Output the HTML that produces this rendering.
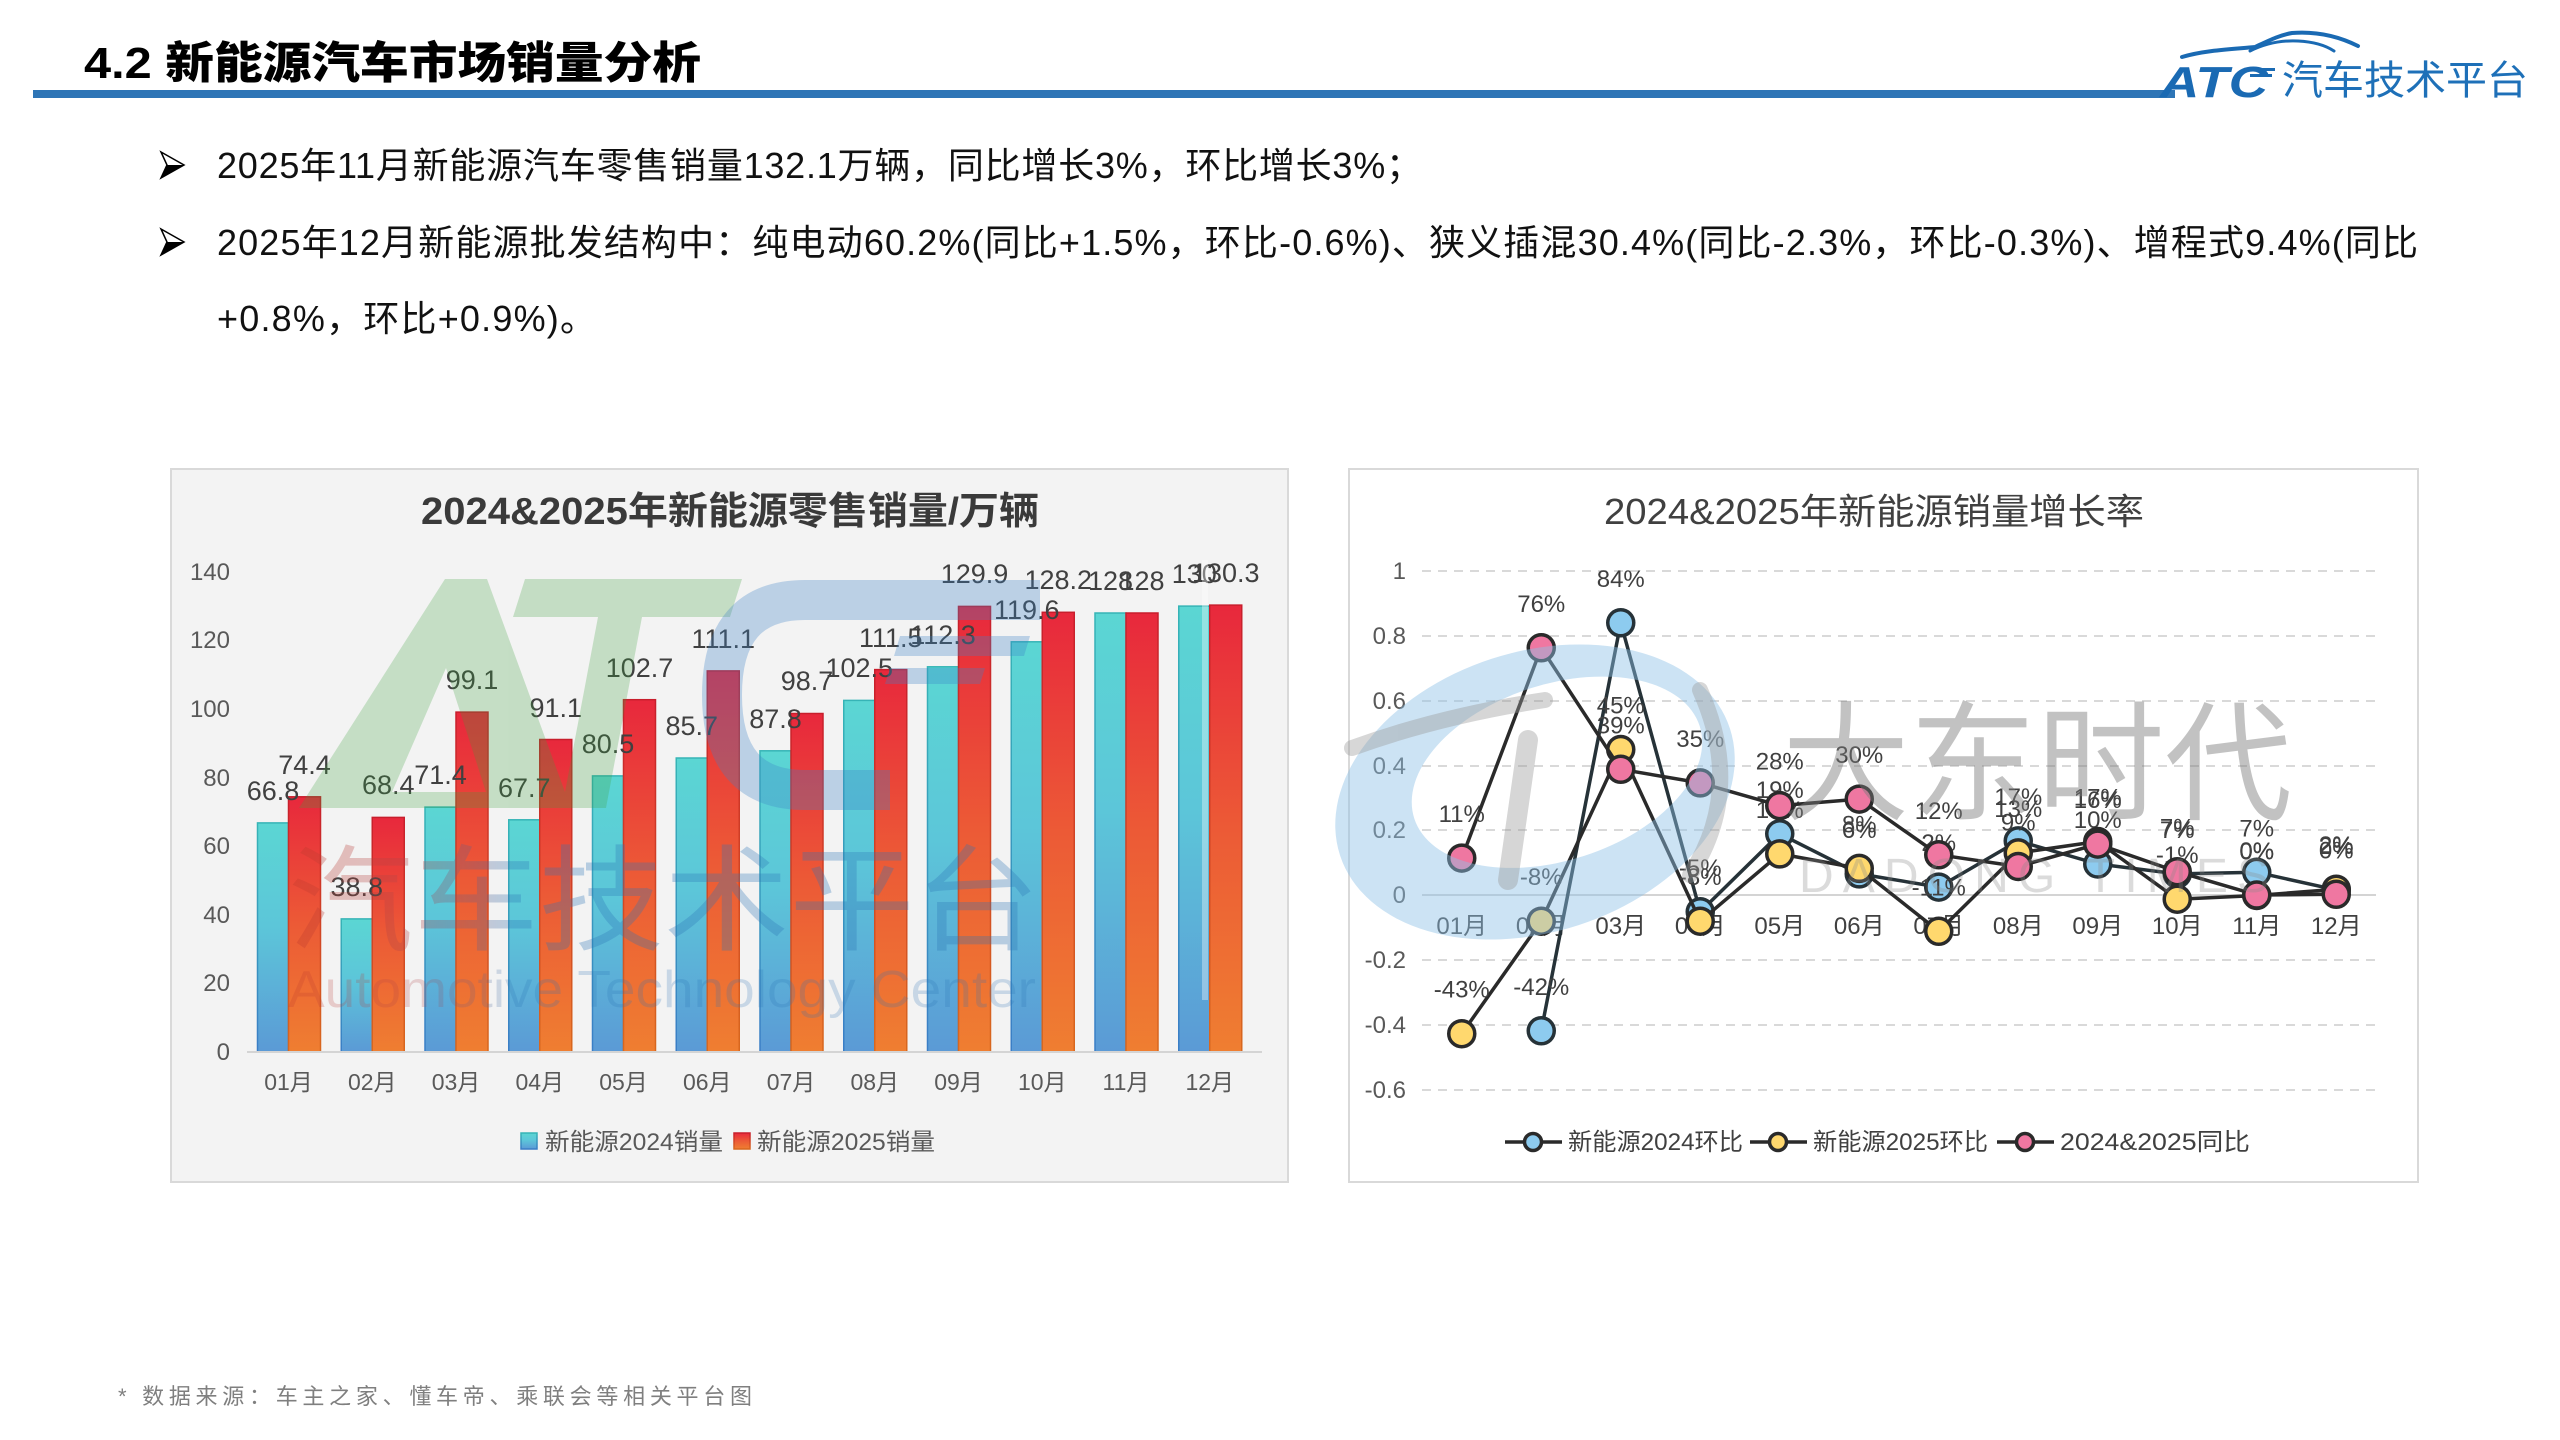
<!DOCTYPE html>
<html>
<head>
<meta charset="utf-8">
<style>
html,body{margin:0;padding:0;background:#fff;}
body{width:2560px;height:1440px;overflow:hidden;}
svg{display:block;}
</style>
</head>
<body>
<svg width="2560" height="1440" viewBox="0 0 2560 1440" xmlns="http://www.w3.org/2000/svg" font-family="'Liberation Sans','Noto Sans CJK SC',sans-serif">
<defs>
  <linearGradient id="gb" x1="0" y1="0" x2="0" y2="1">
    <stop offset="0" stop-color="#5bd6d3"/>
    <stop offset="0.45" stop-color="#5cc6d9"/>
    <stop offset="1" stop-color="#5b9ad6"/>
  </linearGradient>
  <linearGradient id="gr" x1="0" y1="0" x2="0" y2="1">
    <stop offset="0" stop-color="#e8283c"/>
    <stop offset="0.5" stop-color="#ec5a36"/>
    <stop offset="1" stop-color="#ef7e31"/>
  </linearGradient>
  <linearGradient id="gbs" x1="0" y1="0" x2="0" y2="1">
    <stop offset="0" stop-color="#36b4b6"/>
    <stop offset="1" stop-color="#3a7dc6"/>
  </linearGradient>
  <linearGradient id="grs" x1="0" y1="0" x2="0" y2="1">
    <stop offset="0" stop-color="#c81e2c"/>
    <stop offset="1" stop-color="#d8681e"/>
  </linearGradient>
  <linearGradient id="wm" x1="288" y1="0" x2="1040" y2="0" gradientUnits="userSpaceOnUse">
    <stop offset="0" stop-color="#c0392b"/>
    <stop offset="0.18" stop-color="#b04a50"/>
    <stop offset="0.3" stop-color="#2e75b6"/>
    <stop offset="1" stop-color="#2e75b6"/>
  </linearGradient>
</defs>

<!-- ===== Header ===== -->
<text x="84" y="78" font-size="44" font-weight="900" fill="#000" textLength="617" lengthAdjust="spacingAndGlyphs">4.2 新能源汽车市场销量分析</text>
<rect x="33" y="90" width="2142" height="8" fill="#2e75b6"/>

<!-- logo -->
<g fill="none" stroke="#1a6ab3" stroke-linecap="round">
  <path d="M2182,57 C2205,50 2235,49 2255,47 C2270,40 2280,35 2292,33 C2318,31 2340,37 2358,46" stroke-width="4"/>
  <path d="M2250,51 C2262,45 2278,40 2298,41 C2318,42 2328,47 2334,51" stroke-width="3"/>
</g>
<text x="2160" y="97" font-size="44" font-weight="700" font-style="italic" fill="#1a6ab3" textLength="108" lengthAdjust="spacingAndGlyphs">ATC</text>
<rect x="2250" y="68" width="25" height="3" fill="#1a6ab3"/>
<rect x="2250" y="74" width="22" height="3" fill="#1a6ab3"/>
<text x="2282" y="94" font-size="40" fill="#1e70b8" textLength="246" lengthAdjust="spacingAndGlyphs">汽车技术平台</text>

<!-- bullets -->
<g>
  <path d="M161,152 L184,165 L161,178 L167,165 Z" fill="#fff" stroke="#000" stroke-width="1.5"/>
  <path d="M161,178 L184,165 L167,165 Z" fill="#000"/>
  <path d="M161,229 L184,242 L161,255 L167,242 Z" fill="#fff" stroke="#000" stroke-width="1.5"/>
  <path d="M161,255 L184,242 L167,242 Z" fill="#000"/>
</g>
<g font-size="36" fill="#111">
  <text x="217" y="178" textLength="1205" lengthAdjust="spacing">2025年11月新能源汽车零售销量132.1万辆，同比增长3%，环比增长3%；</text>
  <text x="217" y="255" textLength="2201" lengthAdjust="spacing">2025年12月新能源批发结构中：纯电动60.2%(同比+1.5%，环比-0.6%)、狭义插混30.4%(同比-2.3%，环比-0.3%)、增程式9.4%(同比</text>
  <text x="217" y="331" textLength="379" lengthAdjust="spacing">+0.8%，环比+0.9%)。</text>
</g>

<!-- ===== Left chart ===== -->
<rect x="171" y="469" width="1117" height="713" fill="#f3f3f3" stroke="#d9d9d9" stroke-width="2"/>
<text x="730" y="524" font-size="38" font-weight="700" fill="#3a3a3a" text-anchor="middle" textLength="618" lengthAdjust="spacingAndGlyphs">2024&amp;2025年新能源零售销量/万辆</text>

<g font-size="24" fill="#595959" text-anchor="end">
  <text x="230" y="1060">0</text>
  <text x="230" y="991">20</text>
  <text x="230" y="923">40</text>
  <text x="230" y="854">60</text>
  <text x="230" y="786">80</text>
  <text x="230" y="717">100</text>
  <text x="230" y="648">120</text>
  <text x="230" y="580">140</text>
</g>

<g stroke="url(#gbs)" stroke-width="1.5" fill="url(#gb)">
  <rect x="257.5" y="822.9" width="31" height="229.1"/>
  <rect x="341.25" y="918.9" width="31" height="133.1"/>
  <rect x="425" y="807.1" width="31" height="244.9"/>
  <rect x="508.75" y="819.8" width="31" height="232.2"/>
  <rect x="592.5" y="775.9" width="31" height="276.1"/>
  <rect x="676.25" y="758" width="31" height="294"/>
  <rect x="760" y="750.8" width="31" height="301.2"/>
  <rect x="843.75" y="700.4" width="31" height="351.6"/>
  <rect x="927.5" y="666.8" width="31" height="385.2"/>
  <rect x="1011.25" y="641.8" width="31" height="410.2"/>
  <rect x="1095" y="613" width="31" height="439"/>
  <rect x="1178.75" y="606.1" width="31" height="445.9"/>
</g>
<g stroke="url(#grs)" stroke-width="1.5" fill="url(#gr)">
  <rect x="288.5" y="796.8" width="32" height="255.2"/>
  <rect x="372.25" y="817.4" width="32" height="234.6"/>
  <rect x="456" y="712.1" width="32" height="339.9"/>
  <rect x="539.75" y="739.5" width="32" height="312.5"/>
  <rect x="623.5" y="699.7" width="32" height="352.3"/>
  <rect x="707.25" y="670.9" width="32" height="381.1"/>
  <rect x="791" y="713.5" width="32" height="338.5"/>
  <rect x="874.75" y="669.6" width="32" height="382.4"/>
  <rect x="958.5" y="606.4" width="32" height="445.6"/>
  <rect x="1042.25" y="612.3" width="32" height="439.7"/>
  <rect x="1126" y="613" width="32" height="439"/>
  <rect x="1209.75" y="605.1" width="32" height="446.9"/>
</g>
<line x1="247" y1="1052" x2="1262" y2="1052" stroke="#d4d4d4" stroke-width="2"/>

<g font-size="27" fill="#404040" text-anchor="middle">
  <text x="273" y="800">66.8</text>
  <text x="356.75" y="896">38.8</text>
  <text x="440.5" y="784">71.4</text>
  <text x="524.25" y="797">67.7</text>
  <text x="608" y="753">80.5</text>
  <text x="691.75" y="735">85.7</text>
  <text x="775.5" y="728">87.8</text>
  <text x="859.25" y="677">102.5</text>
  <text x="943" y="644">112.3</text>
  <text x="1026.75" y="619">119.6</text>
  <text x="1110.5" y="590">128</text>
  <text x="1194.25" y="583">130</text>
  <text x="304.5" y="774">74.4</text>
  <text x="388.25" y="794">68.4</text>
  <text x="472" y="689">99.1</text>
  <text x="555.75" y="717">91.1</text>
  <text x="639.5" y="677">102.7</text>
  <text x="723.25" y="648">111.1</text>
  <text x="807" y="690">98.7</text>
  <text x="890.75" y="647">111.5</text>
  <text x="974.5" y="583">129.9</text>
  <text x="1058.25" y="589">128.2</text>
  <text x="1142" y="590">128</text>
  <text x="1225.75" y="582">130.3</text>
</g>

<g font-size="23" fill="#595959" text-anchor="middle">
  <text x="288.5" y="1090">01月</text>
  <text x="372.25" y="1090">02月</text>
  <text x="456" y="1090">03月</text>
  <text x="539.75" y="1090">04月</text>
  <text x="623.5" y="1090">05月</text>
  <text x="707.25" y="1090">06月</text>
  <text x="791" y="1090">07月</text>
  <text x="874.75" y="1090">08月</text>
  <text x="958.5" y="1090">09月</text>
  <text x="1042.25" y="1090">10月</text>
  <text x="1126" y="1090">11月</text>
  <text x="1209.75" y="1090">12月</text>
</g>

<rect x="521" y="1133" width="16" height="16" fill="url(#gb)" stroke="url(#gbs)" stroke-width="1.5"/>
<text x="545" y="1150" font-size="24" fill="#595959" textLength="178" lengthAdjust="spacingAndGlyphs">新能源2024销量</text>
<rect x="734" y="1133" width="16" height="16" fill="url(#gr)" stroke="url(#grs)" stroke-width="1.5"/>
<text x="757" y="1150" font-size="24" fill="#595959" textLength="178" lengthAdjust="spacingAndGlyphs">新能源2025销量</text>

<!-- left watermark -->
<g opacity="0.25" fill="#3ca03c">
  <path fill-rule="evenodd" d="M299,808 L445,579 L487,579 L565,792 L565,808 Z M392,792 L446,668 L486,792 Z"/>
  <path d="M525,579 L742,579 L730,617 L513,617 Z"/>
  <path d="M598,617 L642,617 L606,808 L562,808 Z"/>
</g>
<g opacity="0.3" fill="none" stroke="#3c82c8">
  <path d="M1040,600 L805,600 Q722,600 722,695 Q722,790 805,790 L890,790" stroke-width="40"/>
</g>
<g opacity="0.3" fill="#3c82c8">
  <path d="M900,636 L1030,636 L1024,656 L894,656 Z"/>
  <path d="M890,668 L985,668 L980,684 L885,684 Z"/>
</g>
<rect x="1202" y="560" width="6" height="440" fill="#ffffff" opacity="0.35"/>
<text x="288" y="941" font-size="115" fill="url(#wm)" opacity="0.3" textLength="752" lengthAdjust="spacingAndGlyphs">汽车技术平台</text>
<text x="288" y="1007" font-size="52" fill="url(#wm)" opacity="0.22" textLength="748" lengthAdjust="spacingAndGlyphs">Automotive Technology Center</text>

<!-- ===== Right chart ===== -->
<rect x="1349" y="469" width="1069" height="713" fill="#ffffff" stroke="#d9d9d9" stroke-width="2"/>
<text x="1874" y="524" font-size="36" fill="#404040" text-anchor="middle" textLength="540" lengthAdjust="spacingAndGlyphs">2024&amp;2025年新能源销量增长率</text>

<g stroke="#d9d9d9" stroke-width="2" stroke-dasharray="9,7">
  <line x1="1422" y1="571" x2="2376" y2="571"/>
  <line x1="1422" y1="636" x2="2376" y2="636"/>
  <line x1="1422" y1="701" x2="2376" y2="701"/>
  <line x1="1422" y1="766" x2="2376" y2="766"/>
  <line x1="1422" y1="830" x2="2376" y2="830"/>
  <line x1="1422" y1="960" x2="2376" y2="960"/>
  <line x1="1422" y1="1025" x2="2376" y2="1025"/>
  <line x1="1422" y1="1090" x2="2376" y2="1090"/>
</g>
<line x1="1422" y1="895" x2="2376" y2="895" stroke="#d4d4d4" stroke-width="2"/>

<g font-size="24" fill="#595959" text-anchor="end">
  <text x="1406" y="579">1</text>
  <text x="1406" y="644">0.8</text>
  <text x="1406" y="709">0.6</text>
  <text x="1406" y="774">0.4</text>
  <text x="1406" y="838">0.2</text>
  <text x="1406" y="903">0</text>
  <text x="1406" y="968">-0.2</text>
  <text x="1406" y="1033">-0.4</text>
  <text x="1406" y="1098">-0.6</text>
</g>

<g font-size="24" fill="#404040" text-anchor="middle">
  <text x="1461.75" y="934">01月</text>
  <text x="1541.25" y="934">02月</text>
  <text x="1620.75" y="934">03月</text>
  <text x="1700.25" y="934">04月</text>
  <text x="1779.75" y="934">05月</text>
  <text x="1859.25" y="934">06月</text>
  <text x="1938.75" y="934">07月</text>
  <text x="2018.25" y="934">08月</text>
  <text x="2097.75" y="934">09月</text>
  <text x="2177.25" y="934">10月</text>
  <text x="2256.75" y="934">11月</text>
  <text x="2336.25" y="934">12月</text>
</g>

<!-- Blue series: 2024 环比 -->
<polyline fill="none" stroke="#263238" stroke-width="3.5" stroke-linejoin="round" points="1541.25,1030.8 1620.75,622.8 1700.25,911.8 1779.75,833.8 1859.25,873.9 1938.75,887.1 2018.25,840.9 2097.75,864.0 2177.25,873.9 2256.75,872.3 2336.25,889.9"/>
<g fill="#8dcbef" stroke="#263238" stroke-width="3.5">
  <circle cx="1541.25" cy="1030.8" r="13"/>
  <circle cx="1620.75" cy="622.8" r="13"/>
  <circle cx="1700.25" cy="911.8" r="13"/>
  <circle cx="1779.75" cy="833.8" r="13"/>
  <circle cx="1859.25" cy="873.9" r="13"/>
  <circle cx="1938.75" cy="887.1" r="13"/>
  <circle cx="2018.25" cy="840.9" r="13"/>
  <circle cx="2097.75" cy="864.0" r="13"/>
  <circle cx="2177.25" cy="873.9" r="13"/>
  <circle cx="2256.75" cy="872.3" r="13"/>
  <circle cx="2336.25" cy="889.9" r="13"/>
</g>
<g font-size="24" fill="#404040" text-anchor="middle">
  <text x="1541.25" y="994.8">-42%</text>
  <text x="1620.75" y="586.8">84%</text>
  <text x="1700.25" y="875.8">-5%</text>
  <text x="1779.75" y="797.8">19%</text>
  <text x="1859.25" y="837.9">6%</text>
  <text x="1938.75" y="851.1">2%</text>
  <text x="2018.25" y="804.9">17%</text>
  <text x="2097.75" y="828">10%</text>
  <text x="2177.25" y="837.9">7%</text>
  <text x="2256.75" y="836.3">7%</text>
  <text x="2336.25" y="853.9">2%</text>
</g>

<!-- Yellow series: 2025 环比 -->
<polyline fill="none" stroke="#2a2a2a" stroke-width="3.5" stroke-linejoin="round" points="1461.75,1033.7 1541.25,921.2 1620.75,749.5 1700.25,921.2 1779.75,853.9 1859.25,868.4 1938.75,931.3 2018.25,852.9 2097.75,841.5 2177.25,899.2 2256.75,895.5 2336.25,889.2"/>
<g fill="#ffd86e" stroke="#2a2a2a" stroke-width="3.5">
  <circle cx="1461.75" cy="1033.7" r="13"/>
  <circle cx="1541.25" cy="921.2" r="13"/>
  <circle cx="1620.75" cy="749.5" r="13"/>
  <circle cx="1700.25" cy="921.2" r="13"/>
  <circle cx="1779.75" cy="853.9" r="13"/>
  <circle cx="1859.25" cy="868.4" r="13"/>
  <circle cx="1938.75" cy="931.3" r="13"/>
  <circle cx="2018.25" cy="852.9" r="13"/>
  <circle cx="2097.75" cy="841.5" r="13"/>
  <circle cx="2177.25" cy="899.2" r="13"/>
  <circle cx="2256.75" cy="895.5" r="13"/>
  <circle cx="2336.25" cy="889.2" r="13"/>
</g>
<g font-size="24" fill="#404040" text-anchor="middle">
  <text x="1461.75" y="997.7">-43%</text>
  <text x="1541.25" y="885.2">-8%</text>
  <text x="1620.75" y="713.5">45%</text>
  <text x="1700.25" y="885.2">-8%</text>
  <text x="1779.75" y="817.9">13%</text>
  <text x="1859.25" y="832.4">8%</text>
  <text x="1938.75" y="895.3">-11%</text>
  <text x="2018.25" y="816.9">13%</text>
  <text x="2097.75" y="805.5">17%</text>
  <text x="2177.25" y="863.2">-1%</text>
  <text x="2256.75" y="859.5">0%</text>
  <text x="2336.25" y="853.2">2%</text>
</g>

<!-- Pink series: 同比 -->
<polyline fill="none" stroke="#2a2a2a" stroke-width="3.5" stroke-linejoin="round" points="1461.75,858.1 1541.25,647.8 1620.75,769.3 1700.25,782.9 1779.75,805.6 1859.25,799.1 1938.75,854.8 2018.25,866.5 2097.75,844.1 2177.25,871.7 2256.75,895 2336.25,894.3"/>
<g fill="#ef77a1" stroke="#2a2a2a" stroke-width="3.5">
  <circle cx="1461.75" cy="858.1" r="13"/>
  <circle cx="1541.25" cy="647.8" r="13"/>
  <circle cx="1620.75" cy="769.3" r="13"/>
  <circle cx="1700.25" cy="782.9" r="13"/>
  <circle cx="1779.75" cy="805.6" r="13"/>
  <circle cx="1859.25" cy="799.1" r="13"/>
  <circle cx="1938.75" cy="854.8" r="13"/>
  <circle cx="2018.25" cy="866.5" r="13"/>
  <circle cx="2097.75" cy="844.1" r="13"/>
  <circle cx="2177.25" cy="871.7" r="13"/>
  <circle cx="2256.75" cy="895" r="13"/>
  <circle cx="2336.25" cy="894.3" r="13"/>
</g>
<g font-size="24" fill="#404040" text-anchor="middle">
  <text x="1461.75" y="822.1">11%</text>
  <text x="1541.25" y="611.8">76%</text>
  <text x="1620.75" y="733.3">39%</text>
  <text x="1700.25" y="746.9">35%</text>
  <text x="1779.75" y="769.6">28%</text>
  <text x="1859.25" y="763.1">30%</text>
  <text x="1938.75" y="818.8">12%</text>
  <text x="2018.25" y="830.5">9%</text>
  <text x="2097.75" y="808.1">16%</text>
  <text x="2177.25" y="835.7">7%</text>
  <text x="2256.75" y="859">0%</text>
  <text x="2336.25" y="858.3">0%</text>
</g>

<!-- right legend -->
<g stroke="#2a2a2a" stroke-width="3.5">
  <line x1="1505" y1="1142" x2="1562" y2="1142"/>
  <circle cx="1533" cy="1142" r="8.5" fill="#8dcbef"/>
  <line x1="1750" y1="1142" x2="1807" y2="1142"/>
  <circle cx="1778" cy="1142" r="8.5" fill="#ffd86e"/>
  <line x1="1997" y1="1142" x2="2054" y2="1142"/>
  <circle cx="2025" cy="1142" r="8.5" fill="#ef77a1"/>
</g>
<g font-size="24" fill="#404040">
  <text x="1568" y="1150" textLength="175" lengthAdjust="spacingAndGlyphs">新能源2024环比</text>
  <text x="1813" y="1150" textLength="175" lengthAdjust="spacingAndGlyphs">新能源2025环比</text>
  <text x="2060" y="1150" textLength="190" lengthAdjust="spacingAndGlyphs">2024&amp;2025同比</text>
</g>

<!-- right watermark -->
<g transform="rotate(-18 1535 792)">
  <path fill="#8fc0e6" opacity="0.45" fill-rule="evenodd" d="M1330,792 a205,140 0 1,0 410,0 a205,140 0 1,0 -410,0 Z M1412,780 a150,88 0 1,0 300,0 a150,88 0 1,0 -300,0 Z"/>
</g>
<g fill="none" stroke="#9a9a9a" opacity="0.4" stroke-linecap="round">
  <path d="M1352,748 Q1440,716 1545,700" stroke-width="16"/>
  <path d="M1528,740 L1508,880" stroke-width="20"/>
  <path d="M1700,690 Q1745,790 1690,875" stroke-width="16"/>
</g>
<text x="1782" y="810" font-size="130" fill="#7a7a7a" opacity="0.45" textLength="510" lengthAdjust="spacingAndGlyphs">大东时代</text>
<text x="1799" y="892" font-size="48" fill="#8a8a8a" opacity="0.3" textLength="470" lengthAdjust="spacing">DADONG TIMES</text>

<!-- footer -->
<text x="118" y="1404" font-size="22" fill="#7f7f7f" textLength="634" lengthAdjust="spacing">* 数据来源：车主之家、懂车帝、乘联会等相关平台图</text>
</svg>
</body>
</html>
